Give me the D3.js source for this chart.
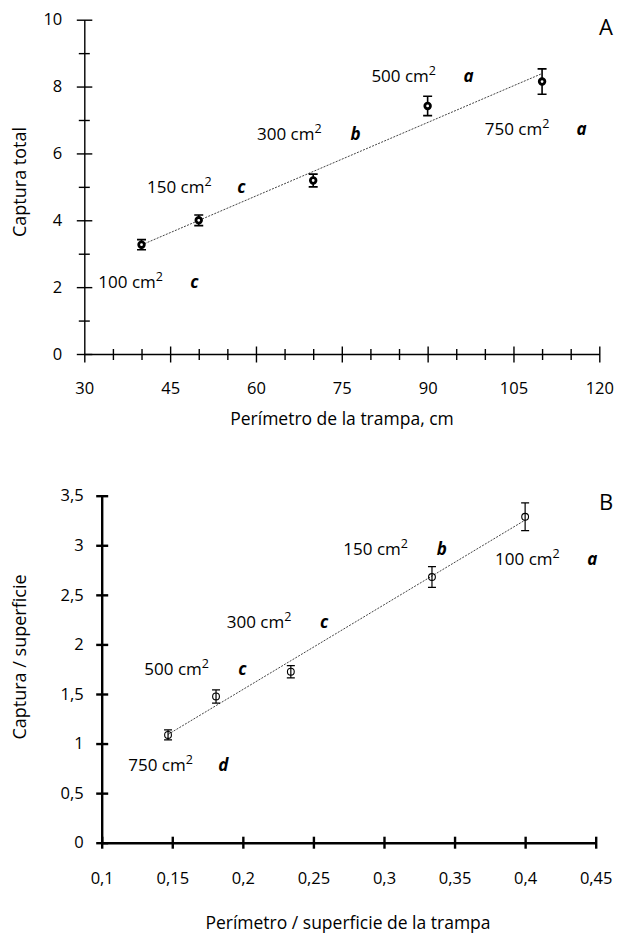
<!DOCTYPE html>
<html>
<head>
<meta charset="utf-8">
<script src="https://cdn.jsdelivr.net/npm/d3@7"></script>
<style>
  body { margin: 0; background: #fff; }
  text { font-family: "Open Sans", sans-serif; fill: #000; }
</style>
</head>
<body>
<div id="chart"></div>
<script>
// Panel A data: total capture vs trap perimeter
const areasA = ["100", "150", "300", "500", "750"];
const perimA = [40, 50, 70, 90, 110];
const captA = [3.27, 4.0, 5.19, 7.42, 8.15];
const errA = [0.15, 0.16, 0.19, 0.29, 0.38];
const groupsA = ["c", "c", "b", "a", "a"];

// Panel B data: capture/area vs perimeter/area
const areasB = ["750", "500", "300", "150", "100"];
const ratioB = [0.147, 0.181, 0.234, 0.334, 0.4];
const captB = [1.087, 1.475, 1.725, 2.68, 3.287];
const errB = [0.05, 0.067, 0.062, 0.104, 0.14];
const groupsB = ["d", "c", "c", "b", "a"];

// label anchors in data units [x text, y baseline, x letter]
const labA = [[32.45, 1.97, 48.5], [40.96, 4.81, 56.75], [60.19, 6.39, 76.5], [80.17, 8.13, 96.26], [99.98, 6.54, 116.0]];
const labB = [[0.1188, 0.7235, 0.1826], [0.1302, 1.692, 0.1968], [0.1886, 2.17, 0.2547], [0.2712, 2.903, 0.3374], [0.3787, 2.802, 0.4441]];

let width = 617, height = 935;

let svg = d3.select("#chart")
    .append("svg")
        .attr("width", width)
        .attr("height", height);

let comma = d => String(d).replace(".", ",");

// simple least squares
let fit = (xs, ys) => {
    let mx = d3.mean(xs), my = d3.mean(ys);
    let sxy = d3.sum(xs, (x, i) => (x - mx) * (ys[i] - my));
    let sxx = d3.sum(xs, x => (x - mx) * (x - mx));
    let b = sxy / sxx;
    return x => my + b * (x - mx);
};

let drawLabels = (g, x, y, pos, areas, groups) => {
    pos.forEach((p, i) => {
        let t = g.append("text")
            .attr("x", x(p[0]))
            .attr("y", y(p[1]))
            .style("font-size", "17px");
        t.append("tspan").text(areas[i] + " cm");
        t.append("tspan").attr("dy", -7).style("font-size", "12.5px").text("2");
        g.append("text")
            .attr("x", x(p[2]))
            .attr("y", y(p[1]))
            .style("font-size", "17px")
            .style("font-weight", "bold")
            .style("font-style", "italic")
            .text(groups[i]);
    });
};

// ---------- Panel A ----------
let xA = d3.scaleLinear([30, 120], [84.3, 599.3]);
let yA = d3.scaleLinear([0, 10], [354, 19.7]);
let gA = svg.append("g");

let axA = gA.append("g")
    .attr("transform", `translate(0,${yA(0)})`)
    .call(d3.axisBottom(xA)
        .tickValues(d3.range(30, 121, 5))
        .tickFormat(d => d % 15 === 0 ? d : "")
        .tickSizeOuter(0)
        .tickPadding(22));
axA.selectAll(".tick line")
    .attr("y1", d => d === 30 ? 0 : (d % 15 === 0 ? -7.5 : -5))
    .attr("y2", d => d % 15 === 0 ? 8.5 : 6);

let ayA = gA.append("g")
    .attr("transform", `translate(${xA(30)},0)`)
    .call(d3.axisLeft(yA)
        .tickValues(d3.range(0, 11, 1))
        .tickFormat(d => d % 2 === 0 ? d : "")
        .tickSizeOuter(0)
        .tickPadding(16));
ayA.selectAll(".tick line")
    .attr("x1", d => d % 2 === 0 ? 8 : 5.5)
    .attr("x2", d => d % 2 === 0 ? -7.5 : -5.5);

[axA, ayA].forEach(a => {
    a.selectAll("path, line").attr("stroke", "#000").attr("stroke-width", 1.4);
    a.selectAll("text").style("font-size", "16.5px").style("font-family", "'Open Sans', sans-serif").attr("fill", "#000");
});

let lineA = fit(perimA, captA);
gA.append("line")
    .attr("x1", xA(d3.min(perimA))).attr("y1", yA(lineA(d3.min(perimA))))
    .attr("x2", xA(d3.max(perimA))).attr("y2", yA(lineA(d3.max(perimA))))
    .attr("stroke", "#444").attr("stroke-width", 1).attr("stroke-dasharray", "2,1.3");

perimA.forEach((p, i) => {
    let cx = xA(p), lo = yA(captA[i] - errA[i]), hi = yA(captA[i] + errA[i]);
    gA.append("path")
        .attr("d", `M${cx},${lo}V${hi}M${cx - 4.5},${lo}H${cx + 4.5}M${cx - 4.5},${hi}H${cx + 4.5}`)
        .attr("stroke", "#000").attr("stroke-width", 1.6).attr("fill", "none");
    gA.append("circle")
        .attr("cx", cx).attr("cy", yA(captA[i])).attr("r", 2.8)
        .attr("fill", "#fff").attr("stroke", "#000").attr("stroke-width", 2.8);
});

drawLabels(gA, xA, yA, labA, areasA, groupsA);

gA.append("text").attr("x", 599).attr("y", 35).style("font-size", "22px").text("A");

gA.append("text")
    .attr("transform", `translate(26,182) rotate(-90)`)
    .attr("text-anchor", "middle")
    .style("font-size", "18px")
    .text("Captura total");

gA.append("text")
    .attr("x", 342).attr("y", 425)
    .attr("text-anchor", "middle")
    .style("font-size", "17.5px")
    .text("Perímetro de la trampa, cm");

// ---------- Panel B ----------
let xB = d3.scaleLinear([0.1, 0.45], [101.7, 595.7]);
let yB = d3.scaleLinear([0, 3.5], [842.7, 495.7]);
let gB = svg.append("g");

let axB = gB.append("g")
    .attr("transform", `translate(0,${yB(0)})`)
    .call(d3.axisBottom(xB)
        .tickValues(d3.range(0, 8).map(i => +(0.1 + i * 0.05).toFixed(2)))
        .tickFormat(comma)
        .tickSizeOuter(0)
        .tickPadding(24));
axB.selectAll(".tick line").attr("y1", -6).attr("y2", 6);

let ayB = gB.append("g")
    .attr("transform", `translate(${xB(0.1)},0)`)
    .call(d3.axisLeft(yB)
        .tickValues(d3.range(0, 8).map(i => i * 0.5))
        .tickFormat(comma)
        .tickSizeOuter(0)
        .tickPadding(12));
ayB.selectAll(".tick line").attr("x1", 6.5).attr("x2", -5.5);

[axB, ayB].forEach(a => {
    a.selectAll("path, line").attr("stroke", "#000").attr("stroke-width", 2.4);
    a.selectAll("text").style("font-size", "16.5px").style("font-family", "'Open Sans', sans-serif").attr("fill", "#000");
});

let lineB = fit(ratioB, captB);
gB.append("line")
    .attr("x1", xB(d3.min(ratioB))).attr("y1", yB(lineB(d3.min(ratioB))))
    .attr("x2", xB(d3.max(ratioB))).attr("y2", yB(lineB(d3.max(ratioB))))
    .attr("stroke", "#444").attr("stroke-width", 1).attr("stroke-dasharray", "2,1.3");

ratioB.forEach((r, i) => {
    let cx = xB(r), lo = yB(captB[i] - errB[i]), hi = yB(captB[i] + errB[i]);
    gB.append("path")
        .attr("d", `M${cx},${lo}V${hi}M${cx - 4},${lo}H${cx + 4}M${cx - 4},${hi}H${cx + 4}`)
        .attr("stroke", "#000").attr("stroke-width", 1.2).attr("fill", "none");
    gB.append("circle")
        .attr("cx", cx).attr("cy", yB(captB[i])).attr("r", 3.4)
        .attr("fill", "none").attr("stroke", "#000").attr("stroke-width", 1.1);
});

drawLabels(gB, xB, yB, labB, areasB, groupsB);

gB.append("text").attr("x", 599).attr("y", 510).style("font-size", "22px").text("B");

gB.append("text")
    .attr("transform", `translate(26,657) rotate(-90)`)
    .attr("text-anchor", "middle")
    .style("font-size", "18px")
    .text("Captura / superficie");

gB.append("text")
    .attr("x", 348).attr("y", 929)
    .attr("text-anchor", "middle")
    .style("font-size", "17.5px")
    .text("Perímetro / superficie de la trampa");
</script>
</body>
</html>
